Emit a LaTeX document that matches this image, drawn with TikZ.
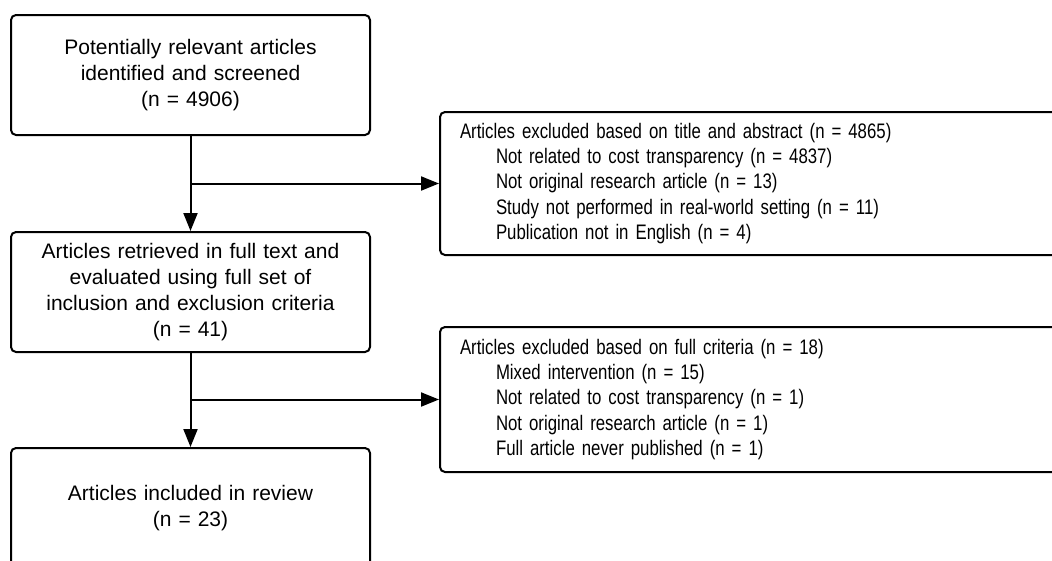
\documentclass[tikz,border=0pt]{standalone}
\usepackage{fontspec}
\setmainfont{Liberation Sans}
\newfontfamily\narrowfont[FakeStretch=0.80,WordSpace=0.8]{Liberation Sans}
\usetikzlibrary{positioning,calc}
\usetikzlibrary{arrows.meta}
\tikzset{stage/.style={draw=black,line width=2pt,rounded corners=5pt,minimum width=359pt,minimum height=120pt,text width=330pt,align=center,inner sep=0pt,font=\fontsize{21}{25.8}\selectfont},
excl/.style={draw=black,line width=2pt,rounded corners=5pt,minimum width=631pt,text width=591pt,align=left,inner xsep=20pt,inner ysep=0pt,anchor=west,font=\narrowfont\fontsize{21}{25.2}\selectfont},
flow/.style={line width=2pt,-{Triangle[length=18pt,width=14pt]}}}
\newcommand{\ind}{\hspace*{36pt}}

\begin{document}
\begin{tikzpicture}[x=1pt,y=-1pt]
\useasboundingbox (0,0) rectangle (1052,560);
\clip (0,0) rectangle (1052,560);
\node[stage] (screened) at (190.5,75) {Potentially relevant articles\\identified and screened\\(n = 4906)};
\node[stage] (fulltext) at (190.5,292) {Articles retrieved in full text and\\evaluated using full set of\\inclusion and exclusion criteria\\(n = 41)};
\node[stage] (included) at (190.5,508) {Articles included in review\\(n = 23)};
\node[excl,minimum height=143pt] (exclTitle) at (439,183.5) {Articles excluded based on title and abstract (n = 4865)\\
\ind Not related to cost transparency (n = 4837)\\
\ind Not original research article (n = 13)\\
\ind Study not performed in real-world setting (n = 11)\\
\ind Publication not in English (n = 4)};
\node[excl,minimum height=145pt] (exclFull) at (439,399.5) {Articles excluded based on full criteria (n = 18)\\
\ind Mixed intervention (n = 15)\\
\ind Not related to cost transparency (n = 1)\\
\ind Not original research article (n = 1)\\
\ind Full article never published (n = 1)};
\coordinate (splitA) at (screened.south |- exclTitle.west);
\coordinate (splitB) at (fulltext.south |- exclFull.west);
\draw[flow] (screened) -- (fulltext);
\draw[flow] (splitA) -- (exclTitle.west);
\draw[flow] (fulltext) -- (included);
\draw[flow] (splitB) -- (exclFull.west);
\end{tikzpicture}
\end{document}
